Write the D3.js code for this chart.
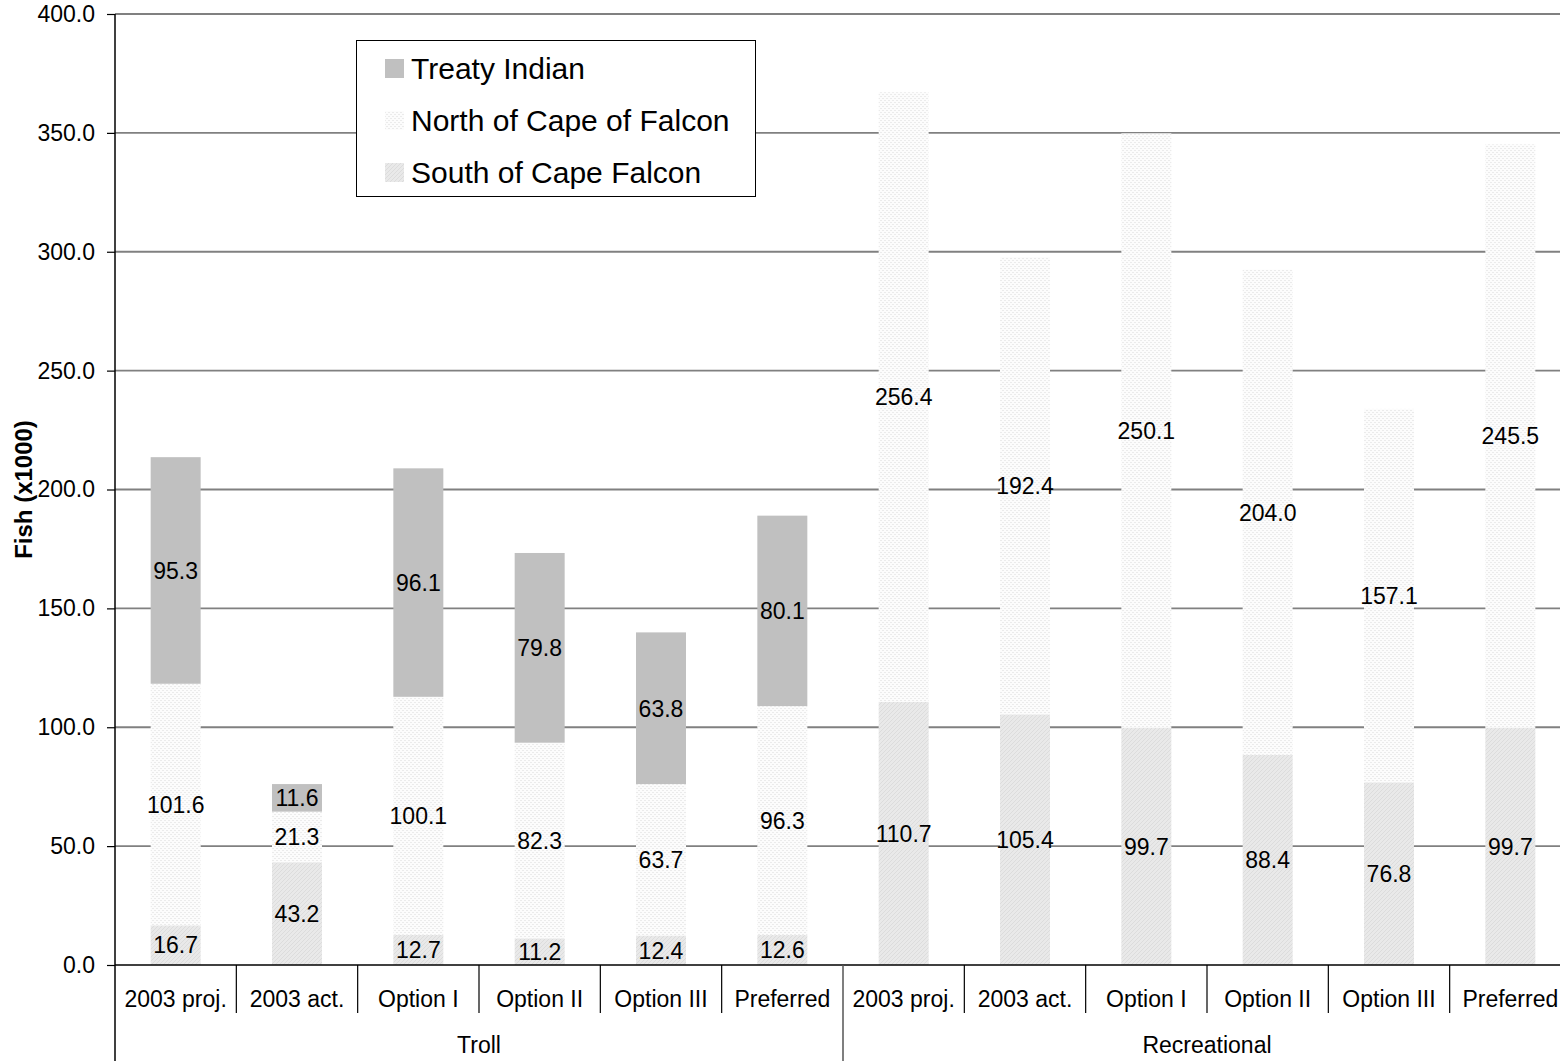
<!DOCTYPE html>
<html>
<head>
<meta charset="utf-8">
<script src="https://cdn.jsdelivr.net/npm/d3@7"></script>
<style>
  html, body { margin: 0; padding: 0; background: #fff; overflow: hidden; }
  svg { display: block; font-family: Arial, "Liberation Sans", sans-serif; }
</style>
</head>
<body>
<svg id="chart" width="1560" height="1061"></svg>
<script>
// ---- Data ----
const groups = ["Troll", "Recreational"];
const options = ["2003 proj.", "2003 act.", "Option I", "Option II", "Option III", "Preferred"];
const seriesNames = ["Treaty Indian", "North of Cape of Falcon", "South of Cape Falcon"];
// values per category (Troll x6, Recreational x6)
const southValues  = [16.7, 43.2, 12.7, 11.2, 12.4, 12.6, 110.7, 105.4, 99.7, 88.4, 76.8, 99.7];
const northValues  = [101.6, 21.3, 100.1, 82.3, 63.7, 96.3, 256.4, 192.4, 250.1, 204.0, 157.1, 245.5];
const treatyValues = [95.3, 11.6, 96.1, 79.8, 63.8, 80.1, 0, 0, 0, 0, 0, 0];
const yTicks = [0, 50, 100, 150, 200, 250, 300, 350, 400];

const categories = [];
groups.forEach(g => options.forEach(o => categories.push({ key: g + "|" + o, group: g, label: o })));

const rows = categories.map((c, i) => ({
  key: c.key, south: southValues[i], north: northValues[i], treaty: treatyValues[i]
}));

// ---- Layout ----
const svg = d3.select("#chart");
const L = 115, R = 1571, T = 14, B = 965;

const x = d3.scaleBand().domain(categories.map(c => c.key)).range([L, R]).padding(0);
const y = d3.scaleLinear().domain([0, 400]).range([B, T]);
const barW = x.bandwidth() * 0.412;

// ---- Patterns ----
const defs = svg.append("defs");
const pN = defs.append("pattern").attr("id", "pNorth").attr("patternUnits", "userSpaceOnUse")
  .attr("width", 4).attr("height", 4);
pN.append("rect").attr("width", 4).attr("height", 4).attr("fill", "#fcfcfc");
pN.append("rect").attr("x", 0).attr("y", 0).attr("width", 2).attr("height", 1).attr("fill", "#ebebeb");
pN.append("rect").attr("x", 2).attr("y", 2).attr("width", 2).attr("height", 1).attr("fill", "#ebebeb");

const pS = defs.append("pattern").attr("id", "pSouth").attr("patternUnits", "userSpaceOnUse")
  .attr("width", 4).attr("height", 4);
pS.append("rect").attr("width", 4).attr("height", 4).attr("fill", "#e9e9e9");
pS.append("path").attr("d", "M0,4 L4,0 M-1,1 L1,-1 M3,5 L5,3").attr("stroke", "#dcdcdc").attr("stroke-width", 1);

const fills = { treaty: "#c0c0c0", north: "url(#pNorth)", south: "url(#pSouth)" };

// ---- Gridlines ----
svg.append("g").selectAll("line").data(yTicks.filter(d => d > 0)).join("line")
  .attr("x1", L).attr("x2", R).attr("y1", d => y(d)).attr("y2", d => y(d))
  .attr("stroke", "#808080").attr("stroke-width", 1.8);

// ---- Bars ----
const keys = ["south", "north", "treaty"];
const stack = d3.stack().keys(keys)(rows);
const gBars = svg.append("g");
stack.forEach(layer => {
  gBars.append("g").selectAll("rect").data(layer.filter(d => d[1] - d[0] > 0)).join("rect")
    .attr("x", d => x(d.data.key) + (x.bandwidth() - barW) / 2)
    .attr("width", barW)
    .attr("y", d => y(d[1]))
    .attr("height", d => y(d[0]) - y(d[1]))
    .attr("fill", fills[layer.key]);
});

// ---- Data labels ----
const gLab = svg.append("g");
stack.forEach(layer => {
  gLab.append("g").selectAll("text").data(layer.filter(d => d[1] - d[0] > 0)).join("text")
    .attr("x", d => x(d.data.key) + x.bandwidth() / 2)
    .attr("y", d => y((d[0] + d[1]) / 2))
    .attr("dy", "0.36em")
    .attr("text-anchor", "middle")
    .attr("font-size", 23)
    .attr("fill", "#000")
    .text(d => (d[1] - d[0]).toFixed(1));
});

// ---- Y axis ----
const yAxis = d3.axisLeft(y).tickValues(yTicks).tickFormat(d3.format(".1f")).tickSize(8).tickPadding(12);
const gy = svg.append("g").attr("transform", `translate(${L},0)`).call(yAxis);
gy.select(".domain").remove();
gy.selectAll(".tick line").attr("stroke", "#000").attr("stroke-width", 1.2);
gy.selectAll(".tick text").attr("font-size", 23).attr("font-family", "Arial, 'Liberation Sans', sans-serif").attr("fill", "#000");
svg.append("line").attr("x1", L).attr("x2", L).attr("y1", T).attr("y2", 1061)
  .attr("stroke", "#000").attr("stroke-width", 1.5);

svg.append("text")
  .attr("transform", `translate(24,${(T + B) / 2}) rotate(-90)`)
  .attr("text-anchor", "middle").attr("dy", "0.35em")
  .attr("font-size", 24).attr("font-weight", "bold")
  .text("Fish (x1000)");

// ---- X axis ----
svg.append("line").attr("x1", L).attr("x2", R).attr("y1", B).attr("y2", B)
  .attr("stroke", "#000").attr("stroke-width", 1.5);

const gx = svg.append("g");
gx.selectAll("text.cat").data(categories).join("text").attr("class", "cat")
  .attr("x", d => x(d.key) + x.bandwidth() / 2)
  .attr("y", 999).attr("dy", "0.36em")
  .attr("text-anchor", "middle").attr("font-size", 23)
  .text(d => d.label);

// category separators
gx.selectAll("line.sep").data(categories.slice(1).filter(c => c.label !== options[0])).join("line").attr("class", "sep")
  .attr("x1", d => x(d.key)).attr("x2", d => x(d.key))
  .attr("y1", B).attr("y2", 1013)
  .attr("stroke", "#000").attr("stroke-width", 1.2);

// group separators & labels
groups.forEach((g, gi) => {
  const first = x(g + "|" + options[0]);
  const last = x(g + "|" + options[options.length - 1]) + x.bandwidth();
  if (gi > 0) {
    svg.append("line").attr("x1", first).attr("x2", first).attr("y1", B).attr("y2", 1061)
      .attr("stroke", "#555").attr("stroke-width", 1.5);
  }
  svg.append("text").attr("x", (first + last) / 2).attr("y", 1045).attr("dy", "0.36em")
    .attr("text-anchor", "middle").attr("font-size", 23).text(g);
});

// ---- Legend ----
const lg = svg.append("g");
lg.append("rect").attr("x", 356.5).attr("y", 40.5).attr("width", 399).attr("height", 156)
  .attr("fill", "#fff").attr("stroke", "#000").attr("stroke-width", 1);
const legFills = [fills.treaty, fills.north, fills.south];
seriesNames.forEach((n, i) => {
  const cy = 68 + i * 52;
  lg.append("rect").attr("x", 385).attr("y", cy - 9).attr("width", 19).attr("height", 19).attr("fill", legFills[i]);
  lg.append("text").attr("x", 411).attr("y", cy).attr("dy", "0.36em").attr("font-size", 30).text(n);
});
</script>
</body>
</html>
